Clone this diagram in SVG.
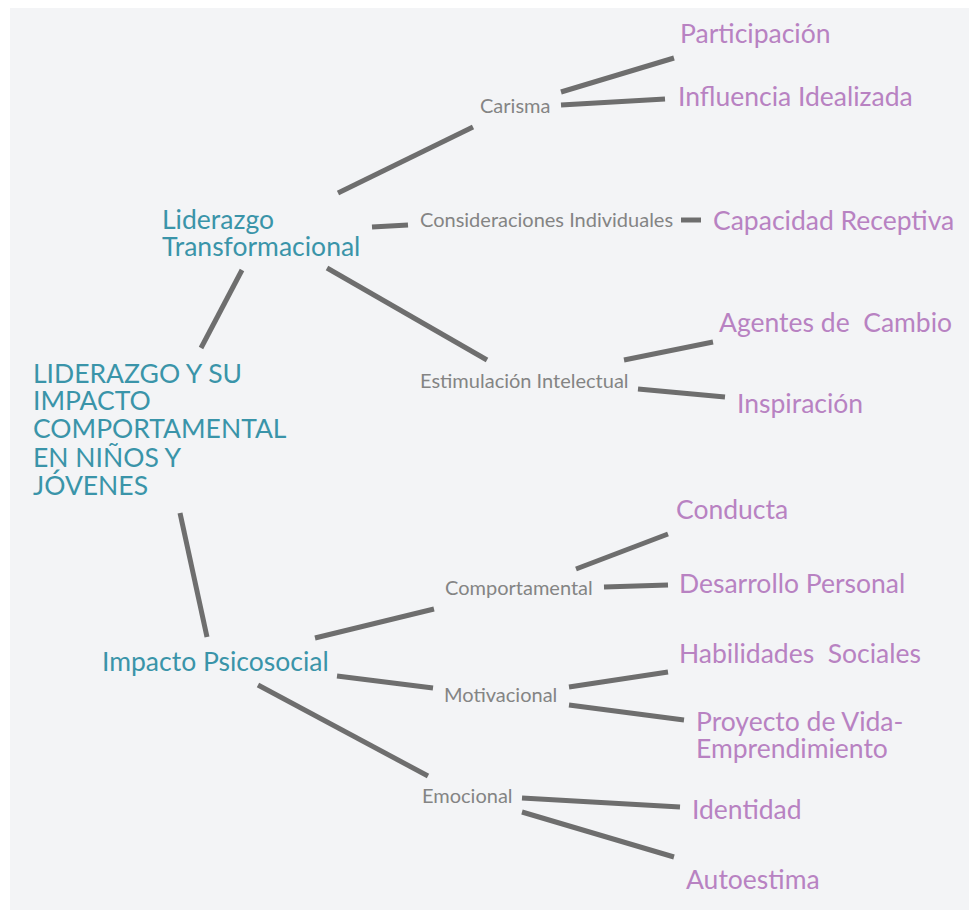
<svg xmlns="http://www.w3.org/2000/svg" width="969" height="914" viewBox="0 0 969 914">
<style>
text{font-family:Lato,"Open Sans","Liberation Sans",sans-serif;white-space:pre}
.root{fill:#3a94a9;font-size:26.5px}
.l1{fill:#3a94a9;font-size:26.5px}
.l2{fill:#848484;font-size:20px}
.l3{fill:#b882c2;font-size:26.5px}
.c line{stroke:#6e6e6e;stroke-width:5;stroke-linecap:butt}
</style>
<rect x="0" y="0" width="969" height="914" fill="#ffffff"/>
<rect x="10" y="8" width="959" height="902" fill="#f3f4f6"/>
<g id="connectors" class="c">
<line x1="338" y1="193" x2="473" y2="127"/>
<line x1="372" y1="227" x2="408" y2="225"/>
<line x1="327" y1="268" x2="487" y2="360"/>
<line x1="242" y1="270" x2="201" y2="348"/>
<line x1="561" y1="92" x2="674" y2="58"/>
<line x1="561" y1="105" x2="665" y2="99"/>
<line x1="681" y1="220" x2="701" y2="220"/>
<line x1="624" y1="360" x2="713" y2="342"/>
<line x1="638" y1="389" x2="725" y2="397"/>
<line x1="180" y1="513" x2="207" y2="637"/>
<line x1="315" y1="638" x2="434" y2="609"/>
<line x1="337" y1="676" x2="433" y2="688"/>
<line x1="258" y1="685" x2="428" y2="776"/>
<line x1="576" y1="569" x2="668" y2="534"/>
<line x1="604" y1="587" x2="668" y2="585"/>
<line x1="569" y1="687" x2="668" y2="672"/>
<line x1="569" y1="705" x2="684" y2="720"/>
<line x1="522" y1="798" x2="680" y2="807"/>
<line x1="522" y1="812" x2="674" y2="857"/>
</g>
<g id="root"><text class="root"><tspan x="33" y="383">LIDERAZGO Y SU</tspan><tspan x="33" y="410">IMPACTO</tspan><tspan x="33" y="438">COMPORTAMENTAL</tspan><tspan x="33" y="467">EN NIÑOS Y</tspan><tspan x="33" y="495">JÓVENES</tspan></text></g>
<g id="liderazgo"><text class="l1"><tspan x="162" y="229">Liderazgo</tspan><tspan x="162" y="256">Transformacional</tspan></text></g>
<g id="impacto"><text class="l1" x="102" y="671">Impacto Psicosocial</text></g>
<g id="carisma"><text class="l2" x="480" y="113">Carisma</text></g>
<g id="consideraciones"><text class="l2" x="420" y="227">Consideraciones Individuales</text></g>
<g id="estimulacion"><text class="l2" x="420" y="388">Estimulación Intelectual</text></g>
<g id="comportamental"><text class="l2" x="445" y="595">Comportamental</text></g>
<g id="motivacional"><text class="l2" x="444" y="702">Motivacional</text></g>
<g id="emocional"><text class="l2" x="422" y="803">Emocional</text></g>
<g id="participacion"><text class="l3" x="680" y="43">Participación</text></g>
<g id="influencia"><text class="l3" x="678" y="106">Influencia Idealizada</text></g>
<g id="capacidad"><text class="l3" x="713" y="230">Capacidad Receptiva</text></g>
<g id="agentes"><text class="l3" x="719" y="332">Agentes de  Cambio</text></g>
<g id="inspiracion"><text class="l3" x="737" y="413">Inspiración</text></g>
<g id="conducta"><text class="l3" x="676" y="519">Conducta</text></g>
<g id="desarrollo"><text class="l3" x="679" y="593">Desarrollo Personal</text></g>
<g id="habilidades"><text class="l3" x="679" y="663">Habilidades  Sociales</text></g>
<g id="proyecto"><text class="l3"><tspan x="696" y="731">Proyecto de Vida-</tspan><tspan x="696" y="758">Emprendimiento</tspan></text></g>
<g id="identidad"><text class="l3" x="692" y="819">Identidad</text></g>
<g id="autoestima"><text class="l3" x="686" y="889">Autoestima</text></g>
</svg>
